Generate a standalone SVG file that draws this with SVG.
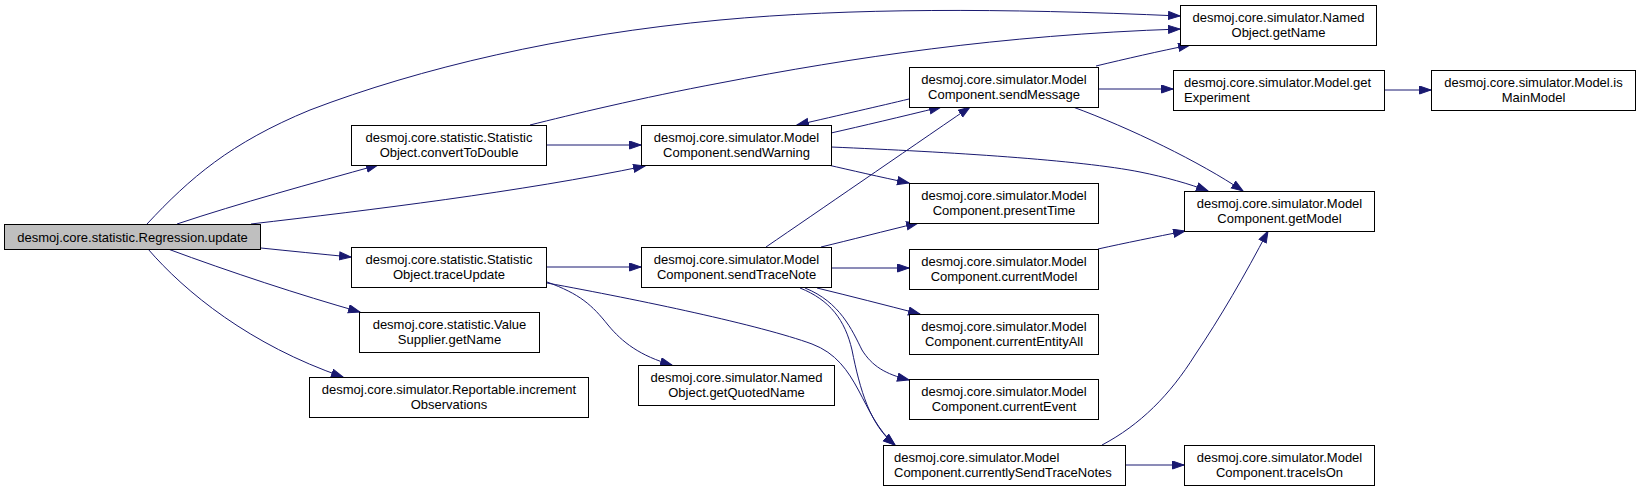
<svg xmlns="http://www.w3.org/2000/svg" width="1640" height="491" viewBox="0 0 1640 491">
<style>
.n rect{fill:#ffffff;stroke:#000000;stroke-width:1}
.n.root rect{fill:#bfbfbf}
.n text{font-family:"Liberation Sans",Arial,sans-serif;font-size:13px;fill:#000000;text-anchor:middle}
.n text.l{text-anchor:start}
#edges path{fill:none;stroke:#191970;stroke-width:1;marker-end:url(#arr)}
</style>
<defs>
<marker id="arr" markerUnits="userSpaceOnUse" markerWidth="14" markerHeight="11" refX="12" refY="4.5" orient="auto" viewBox="0 0 14 11">
<path d="M0.5,0.5 L12,4.5 L0.5,8.5 Z" fill="#191970" stroke="#191970" stroke-width="1"/>
</marker>
</defs>
<rect x="0" y="0" width="1640" height="491" fill="#ffffff"/>
<g id="edges">
<path d="M147,224 C190,178 230,143 310,110 C420,68 560,35 720,20 C850,8 1000,8 1180,16"/>
<path d="M177,224 C240,203 310,184 378,165"/>
<path d="M251,224 C370,210 520,192 645,166"/>
<path d="M261,248 C290,251 320,254 351,257"/>
<path d="M168,249 C230,272 300,295 360,312"/>
<path d="M148,249 C185,292 250,345 343,377"/>
<path d="M530,125 C570,115 640,98 720,83 C850,58 1000,35 1180,29"/>
<path d="M546,145 L641,145"/>
<path d="M831,133 C862,126 900,117 941,107"/>
<path d="M909,99 C880,106 840,115 797,125"/>
<path d="M828,165 C850,170 880,177 909,183"/>
<path d="M831,147 C950,152 1080,160 1140,172 C1165,177 1190,184 1208,191"/>
<path d="M1096,66 C1125,59 1160,51 1190,45"/>
<path d="M1098,89 L1173,89"/>
<path d="M1073,107 C1130,128 1200,162 1243,191"/>
<path d="M1384,90 L1431,90"/>
<path d="M546,267 L641,267"/>
<path d="M547,282 C580,294 592,305 608,325 C622,342 640,356 672,365"/>
<path d="M547,283 C640,300 760,325 812,344 C860,362 860,415 895,445"/>
<path d="M766,247 C820,210 900,155 970,107"/>
<path d="M821,247 C850,240 885,231 918,223"/>
<path d="M831,268 L909,268"/>
<path d="M817,288 C850,296 885,305 920,314"/>
<path d="M805,288 C840,302 852,330 862,350 C872,366 885,374 909,380"/>
<path d="M800,288 C830,300 845,320 852,350 C860,390 870,425 895,445"/>
<path d="M1098,249 C1125,243 1155,237 1185,231"/>
<path d="M1102,445 C1140,425 1170,395 1195,355 C1220,318 1245,275 1268,231"/>
<path d="M1125,465 L1184,465"/>
</g>
<g id="n_update" class="n root"><rect x="4.5" y="224.5" width="256" height="25"/><text x="132.5" y="242">desmoj.core.statistic.Regression.update</text></g>
<g id="n_convertToDouble" class="n"><rect x="351.5" y="125.5" width="195" height="40"/><text x="449" y="142">desmoj.core.statistic.Statistic</text><text x="449" y="157">Object.convertToDouble</text></g>
<g id="n_traceUpdate" class="n"><rect x="351.5" y="247.5" width="195" height="40"/><text x="449" y="264">desmoj.core.statistic.Statistic</text><text x="449" y="279">Object.traceUpdate</text></g>
<g id="n_valueSupplier" class="n"><rect x="359.5" y="312.5" width="180" height="40"/><text x="449.5" y="329">desmoj.core.statistic.Value</text><text x="449.5" y="344">Supplier.getName</text></g>
<g id="n_increment" class="n"><rect x="309.5" y="377.5" width="279" height="40"/><text x="449" y="394">desmoj.core.simulator.Reportable.increment</text><text x="449" y="409">Observations</text></g>
<g id="n_sendWarning" class="n"><rect x="641.5" y="125.5" width="190" height="40"/><text x="736.5" y="142">desmoj.core.simulator.Model</text><text x="736.5" y="157">Component.sendWarning</text></g>
<g id="n_sendTraceNote" class="n"><rect x="641.5" y="247.5" width="190" height="40"/><text x="736.5" y="264">desmoj.core.simulator.Model</text><text x="736.5" y="279">Component.sendTraceNote</text></g>
<g id="n_getQuotedName" class="n"><rect x="638.5" y="365.5" width="196" height="40"/><text x="736.5" y="382">desmoj.core.simulator.Named</text><text x="736.5" y="397">Object.getQuotedName</text></g>
<g id="n_sendMessage" class="n"><rect x="909.5" y="67.5" width="189" height="40"/><text x="1004" y="84">desmoj.core.simulator.Model</text><text x="1004" y="99">Component.sendMessage</text></g>
<g id="n_presentTime" class="n"><rect x="909.5" y="183.5" width="189" height="40"/><text x="1004" y="200">desmoj.core.simulator.Model</text><text x="1004" y="215">Component.presentTime</text></g>
<g id="n_currentModel" class="n"><rect x="909.5" y="249.5" width="189" height="40"/><text x="1004" y="266">desmoj.core.simulator.Model</text><text x="1004" y="281">Component.currentModel</text></g>
<g id="n_currentEntityAll" class="n"><rect x="909.5" y="314.5" width="189" height="40"/><text x="1004" y="331">desmoj.core.simulator.Model</text><text x="1004" y="346">Component.currentEntityAll</text></g>
<g id="n_currentEvent" class="n"><rect x="909.5" y="379.5" width="189" height="40"/><text x="1004" y="396">desmoj.core.simulator.Model</text><text x="1004" y="411">Component.currentEvent</text></g>
<g id="n_currentlySendTraceNotes" class="n"><rect x="883.5" y="445.5" width="242" height="40"/><text class="l" x="894" y="462">desmoj.core.simulator.Model</text><text class="l" x="894" y="477">Component.currentlySendTraceNotes</text></g>
<g id="n_getName" class="n"><rect x="1180.5" y="5.5" width="196" height="40"/><text x="1278.5" y="22">desmoj.core.simulator.Named</text><text x="1278.5" y="37">Object.getName</text></g>
<g id="n_getExperiment" class="n"><rect x="1173.5" y="70.5" width="211" height="40"/><text class="l" x="1184" y="87">desmoj.core.simulator.Model.get</text><text class="l" x="1184" y="102">Experiment</text></g>
<g id="n_isMainModel" class="n"><rect x="1431.5" y="70.5" width="204" height="40"/><text x="1533.5" y="87">desmoj.core.simulator.Model.is</text><text x="1533.5" y="102">MainModel</text></g>
<g id="n_getModel" class="n"><rect x="1184.5" y="191.5" width="190" height="40"/><text x="1279.5" y="208">desmoj.core.simulator.Model</text><text x="1279.5" y="223">Component.getModel</text></g>
<g id="n_traceIsOn" class="n"><rect x="1184.5" y="445.5" width="190" height="40"/><text x="1279.5" y="462">desmoj.core.simulator.Model</text><text x="1279.5" y="477">Component.traceIsOn</text></g>
</svg>
